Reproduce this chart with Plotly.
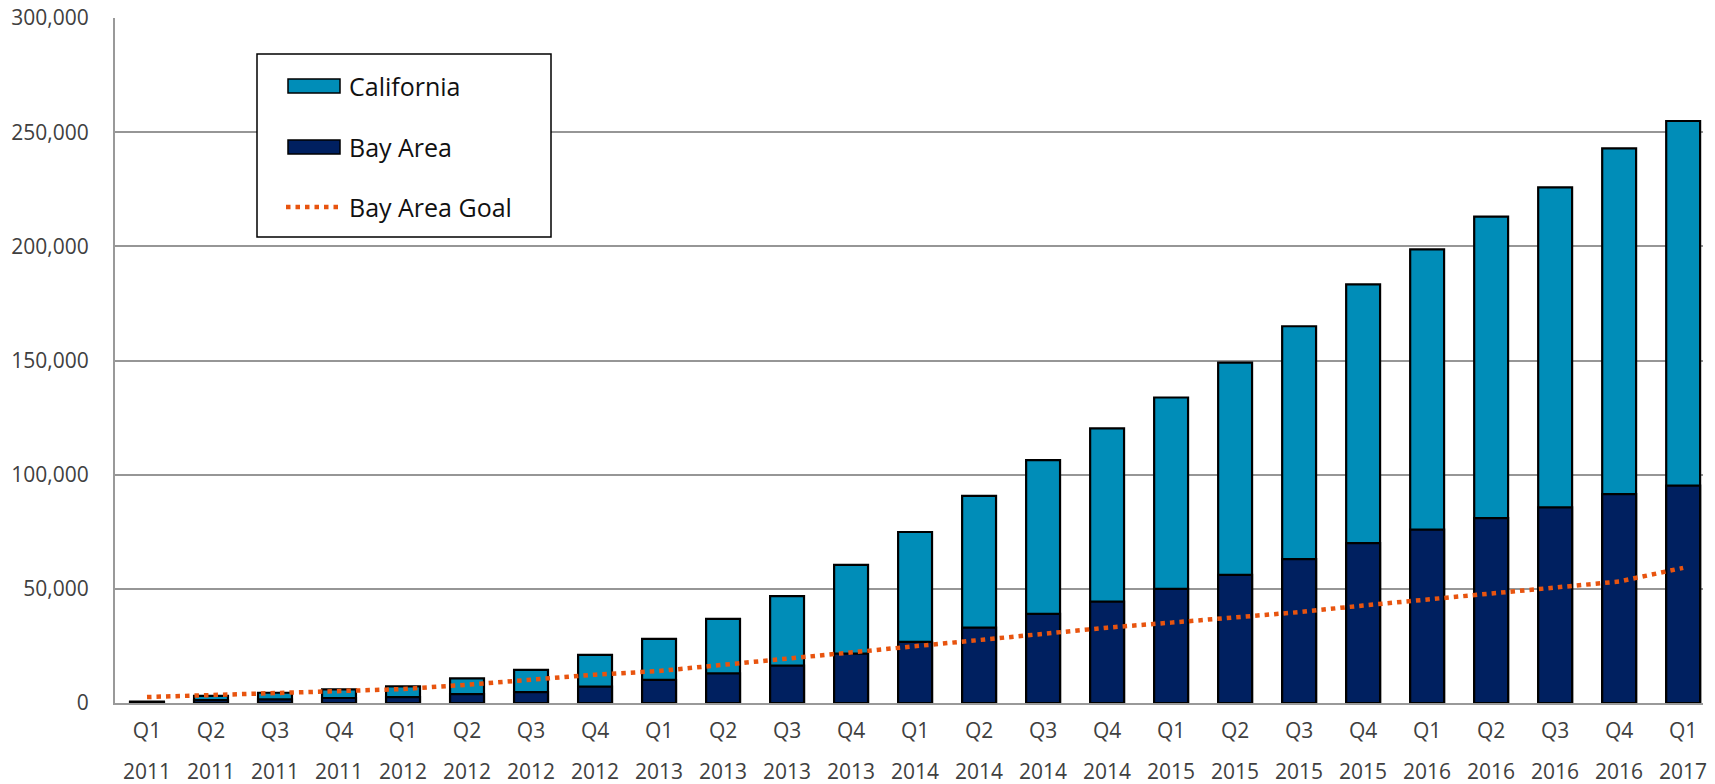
import plotly.graph_objects as go

# Quarter labels along the category axis
quarters = ["Q1", "Q2", "Q3", "Q4", "Q1", "Q2", "Q3", "Q4", "Q1", "Q2", "Q3", "Q4",
            "Q1", "Q2", "Q3", "Q4", "Q1", "Q2", "Q3", "Q4", "Q1", "Q2", "Q3", "Q4", "Q1"]
years = ["2011"] * 4 + ["2012"] * 4 + ["2013"] * 4 + ["2014"] * 4 + ["2015"] * 4 + ["2016"] * 4 + ["2017"]

# Cumulative totals per quarter
california = [600, 3100, 4500, 6000, 7300, 10800, 14500, 21100, 28100, 36800, 46800, 60500,
              74900, 90700, 106400, 120300, 133800, 149100, 165000, 183300, 198700, 213000,
              225800, 242900, 254900]
bay_area = [300, 1300, 1600, 2200, 2600, 3900, 4800, 7200, 10100, 13000, 16400, 21600,
            26800, 33000, 39000, 44400, 50000, 56100, 63000, 70000, 75900, 81000,
            85700, 91500, 95200]
bay_area_goal = [2600, 3500, 4200, 5100, 6100, 8000, 10400, 12400, 14000, 16700, 19600, 22500,
                 25100, 27600, 30300, 33000, 35200, 37600, 39800, 42700, 45200, 47800,
                 50600, 53200, 59200]

y_ticks = [0, 50000, 100000, 150000, 200000, 250000, 300000]

CA_COLOR = "#008DB8"
BA_COLOR = "#002060"
GOAL_COLOR = "#E8540F"
TEXT = "#404040"
FONT = "Open Sans"

W, H = 1715, 784
M_L, M_R, M_T, M_B = 115, 12, 18, 81
PW, PH = W - M_L - M_R, H - M_T - M_B


def px_x(px):
    return (px - M_L) / PW


def px_y(py):
    return (H - M_B - py) / PH


idx = list(range(len(quarters)))

fig = go.Figure()
fig.add_trace(go.Bar(
    x=idx, y=california, name="California", showlegend=False,
    marker=dict(color=CA_COLOR, line=dict(color="#000000", width=2.2)),
))
fig.add_trace(go.Bar(
    x=idx, y=bay_area, name="Bay Area", showlegend=False,
    marker=dict(color=BA_COLOR, line=dict(color="#000000", width=2.2)),
))
fig.add_trace(go.Scatter(
    x=idx, y=bay_area_goal, name="Bay Area Goal", mode="lines", showlegend=False,
    line=dict(color=GOAL_COLOR, width=4.5, dash="4.5px,5px"),
))

# second line of each category label (the year)
for i, yr in zip(idx, years):
    fig.add_annotation(x=i, xref="x", y=0, yref="paper", yshift=-68, yanchor="middle",
                       text=yr, showarrow=False, font=dict(family=FONT, size=21, color=TEXT))

# legend box drawn with shapes and text
shapes = [
    dict(type="rect", xref="paper", yref="paper",
         x0=px_x(257), x1=px_x(551), y0=px_y(237), y1=px_y(54),
         line=dict(color="#000000", width=1.5), fillcolor="white", layer="above"),
    dict(type="rect", xref="paper", yref="paper",
         x0=px_x(288), x1=px_x(340), y0=px_y(93), y1=px_y(79),
         line=dict(color="#000000", width=1.5), fillcolor=CA_COLOR, layer="above"),
    dict(type="rect", xref="paper", yref="paper",
         x0=px_x(288), x1=px_x(340), y0=px_y(154), y1=px_y(140),
         line=dict(color="#000000", width=1.5), fillcolor=BA_COLOR, layer="above"),
    dict(type="line", xref="paper", yref="paper",
         x0=px_x(286), x1=px_x(340), y0=px_y(207), y1=px_y(207),
         line=dict(color=GOAL_COLOR, width=4.5, dash="4.5px,5px"), layer="above"),
]
for label, py in [("California", 86), ("Bay Area", 147), ("Bay Area Goal", 207)]:
    fig.add_annotation(x=px_x(347), y=px_y(py), xref="paper", yref="paper",
                       xanchor="left", yanchor="middle", showarrow=False, text=label,
                       font=dict(family=FONT, size=25, color="#111111"))

fig.update_layout(
    width=W, height=H,
    margin=dict(l=M_L, r=M_R, t=M_T, b=M_B),
    paper_bgcolor="white", plot_bgcolor="white",
    barmode="overlay", bargap=0.47,
    font=dict(family=FONT, size=21, color=TEXT),
    showlegend=False,
    shapes=shapes,
    xaxis=dict(
        range=[-0.5, 24.31], tickmode="array", tickvals=idx, ticktext=quarters,
        showgrid=False, showline=True, linecolor="#999999", linewidth=2,
        ticks="", ticklabelstandoff=8, tickfont=dict(family=FONT, size=21, color=TEXT),
        zeroline=False, automargin=False,
    ),
    yaxis=dict(
        range=[0, 300000], tickmode="array", tickvals=y_ticks,
        tickformat=",d", showgrid=True, gridcolor="#969696", gridwidth=2,
        showline=True, linecolor="#999999", linewidth=2, ticks="",
        ticklabelstandoff=20, tickfont=dict(family=FONT, size=21, color=TEXT),
        zeroline=False, automargin=False,
    ),
)

fig.write_html("out.html")
